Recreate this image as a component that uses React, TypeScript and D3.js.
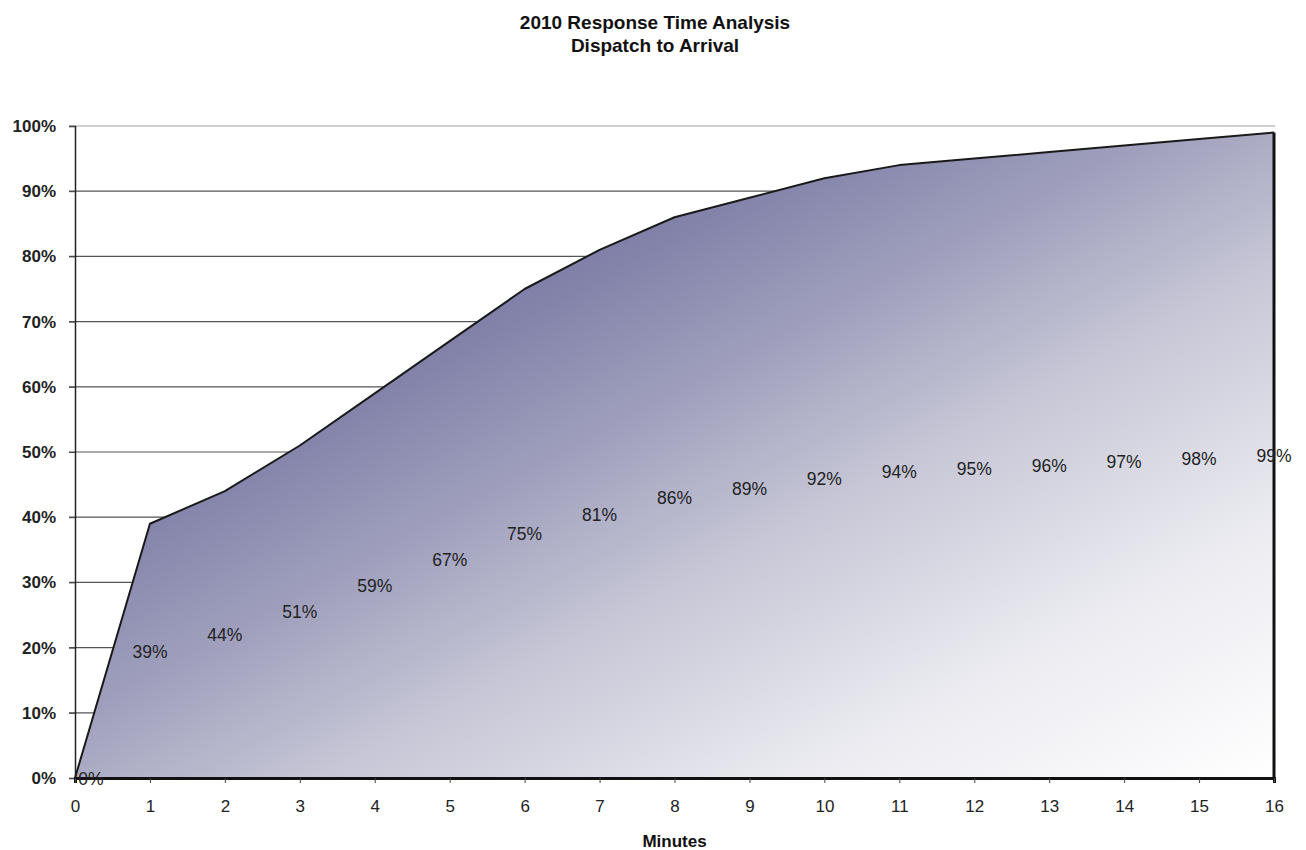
import { useEffect, useRef } from 'react';
import * as d3 from 'd3';

const minutes = [0, 1, 2, 3, 4, 5, 6, 7, 8, 9, 10, 11, 12, 13, 14, 15, 16];
const percentArrived = [0, 39, 44, 51, 59, 67, 75, 81, 86, 89, 92, 94, 95, 96, 97, 98, 99];
const yTicks = [0, 10, 20, 30, 40, 50, 60, 70, 80, 90, 100];
const titleLines = ['2010 Response Time Analysis', 'Dispatch to Arrival'];

const W = 1306;
const H = 850;

const App = () => {
  const svgRef = useRef<SVGSVGElement>(null);

  useEffect(() => {
    if (!svgRef.current) return;
    const svg = d3.select(svgRef.current);
    svg.selectAll('*').remove();

    const margin = { top: 126, right: 32, bottom: 72, left: 75 };
    const innerW = W - margin.left - margin.right;
    const innerH = H - margin.top - margin.bottom;

    const x = d3.scaleLinear().domain([0, 16]).range([0, innerW]);
    const y = d3.scaleLinear().domain([0, 100]).range([innerH, 0]);

    const font = 'Arial, "Liberation Sans", sans-serif';

    // diagonal gradient like the old excel fill
    const defs = svg.append('defs');
    const grad = defs.append('linearGradient')
      .attr('id', 'areaGrad')
      .attr('x1', 0).attr('y1', 0)
      .attr('x2', 1).attr('y2', 1);
    grad.append('stop').attr('offset', '0%').attr('stop-color', '#4c4c7e');
    grad.append('stop').attr('offset', '25%').attr('stop-color', '#72729f');
    grad.append('stop').attr('offset', '45%').attr('stop-color', '#9e9ebc');
    grad.append('stop').attr('offset', '60%').attr('stop-color', '#c6c6d6');
    grad.append('stop').attr('offset', '80%').attr('stop-color', '#ebebf1');
    grad.append('stop').attr('offset', '100%').attr('stop-color', '#ffffff');

    // title
    svg.append('g')
      .selectAll('text')
      .data(titleLines)
      .enter()
      .append('text')
      .attr('x', 655)
      .attr('y', (_, i) => 29 + i * 23)
      .attr('text-anchor', 'middle')
      .attr('font-family', font)
      .attr('font-weight', 'bold')
      .attr('font-size', 19)
      .attr('fill', '#111')
      .text(d => d);

    const g = svg.append('g').attr('transform', `translate(${margin.left},${margin.top})`);

    // gridlines
    g.append('g')
      .selectAll('line')
      .data(yTicks.filter(t => t > 0))
      .enter()
      .append('line')
      .attr('x1', -6)
      .attr('x2', innerW + 1)
      .attr('y1', d => y(d))
      .attr('y2', d => y(d))
      .attr('stroke', d => (d === 100 ? '#a0a0a0' : '#555'))
      .attr('stroke-width', 1.2);

    // area
    const area = d3.area<number>()
      .x((_, i) => x(minutes[i]))
      .y0(y(0))
      .y1(d => y(d));

    g.append('path')
      .datum(percentArrived)
      .attr('d', area)
      .attr('fill', 'url(#areaGrad)');

    const line = d3.line<number>()
      .x((_, i) => x(minutes[i]))
      .y(d => y(d));

    g.append('path')
      .datum(percentArrived)
      .attr('d', line)
      .attr('fill', 'none')
      .attr('stroke', '#1a1a1a')
      .attr('stroke-width', 2)
      .attr('stroke-linejoin', 'round');

    // right edge of area
    const last = percentArrived.length - 1;
    g.append('line')
      .attr('x1', x(minutes[last]))
      .attr('x2', x(minutes[last]))
      .attr('y1', y(percentArrived[last]))
      .attr('y2', y(0))
      .attr('stroke', '#111')
      .attr('stroke-width', 3);

    // y axis
    const yAxis = d3.axisLeft(y)
      .tickValues(yTicks)
      .tickSize(6)
      .tickFormat(d => `${d}%`);
    const ya = g.append('g').call(yAxis);
    ya.select('.domain').attr('stroke', '#222').attr('stroke-width', 1.5);
    ya.selectAll('.tick line').attr('stroke', '#444');
    ya.selectAll('.tick text')
      .attr('x', -19)
      .attr('font-family', font)
      .attr('font-weight', 'bold')
      .attr('font-size', 17)
      .attr('fill', '#222');

    // x axis
    const xAxis = d3.axisBottom(x)
      .tickValues(minutes)
      .tickSize(5)
      .tickFormat(d => `${d}`);
    const xa = g.append('g').attr('transform', `translate(0,${innerH})`).call(xAxis);
    xa.select('.domain').attr('stroke', '#111').attr('stroke-width', 3);
    xa.selectAll('.tick line').attr('stroke', '#444');
    xa.selectAll('.tick text')
      .attr('y', 22)
      .attr('font-family', font)
      .attr('font-size', 17)
      .attr('fill', '#222');

    g.append('text')
      .attr('x', innerW / 2)
      .attr('y', innerH + 69)
      .attr('text-anchor', 'middle')
      .attr('font-family', font)
      .attr('font-weight', 'bold')
      .attr('font-size', 17)
      .attr('fill', '#111')
      .text('Minutes');

    // value labels, centered at half height
    g.append('g')
      .selectAll('text')
      .data(percentArrived)
      .enter()
      .append('text')
      .attr('x', (_, i) => x(minutes[i]) + (i === 0 ? 16 : 0))
      .attr('y', d => y(d / 2))
      .attr('dy', '0.38em')
      .attr('text-anchor', 'middle')
      .attr('font-family', font)
      .attr('font-size', 17.5)
      .attr('fill', '#222')
      .text(d => `${d}%`);
  }, []);

  return (
    <svg
      ref={svgRef}
      width={W}
      height={H}
      style={{ position: 'absolute', left: 0, top: 0, background: '#fff' }}
    />
  );
};

export default App;
